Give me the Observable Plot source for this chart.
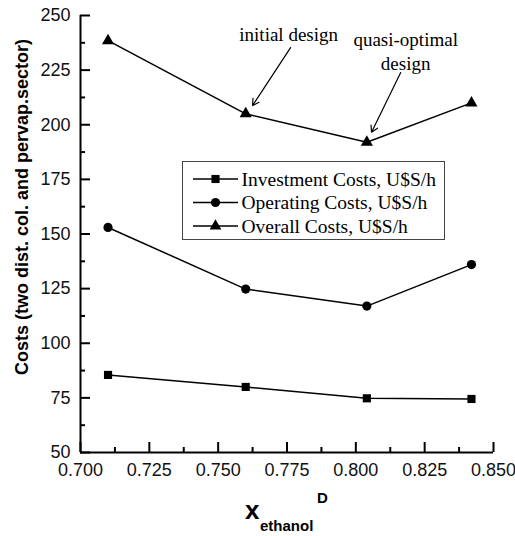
<!DOCTYPE html>
<html>
<head>
<meta charset="utf-8">
<script src="https://cdn.jsdelivr.net/npm/d3@7"></script>
<script src="https://cdn.jsdelivr.net/npm/@observablehq/plot@0.6"></script>
<style>
  body { margin: 0; background: #fff; }
  #wrap { position: relative; width: 515px; height: 536px; }
  #wrap svg { position: absolute; left: 0; top: 0; }
</style>
</head>
<body>
<div id="wrap"></div>
<script>
// ---- data ----
const xEthanol = [0.710, 0.760, 0.804, 0.842];
const investment = [85.5, 80.0, 74.8, 74.5];
const operating = [153.0, 124.8, 117.0, 136.0];
const overall = [238.5, 205.0, 192.0, 210.0];
const seriesNames = ["Investment Costs, U$S/h", "Operating Costs, U$S/h", "Overall Costs, U$S/h"];
const seriesSymbols = ["square", "circle", "triangle"];
const xMajorTicks = [0.700, 0.725, 0.750, 0.775, 0.800, 0.825, 0.850];
const xMinorTicks = [0.7125, 0.7375, 0.7625, 0.7875, 0.8125, 0.8375];
const yMajorTicks = [50, 75, 100, 125, 150, 175, 200, 225, 250];
const yMinorTicks = [62.5, 87.5, 112.5, 137.5, 162.5, 187.5, 212.5, 237.5];
const annotLabels = ["initial design", "quasi-optimal\ndesign"];
const annotTextX = [0.7756, 0.8181];
const annotTextY = [241.8, 234.0];
const arrowFromX = [0.7763, 0.8163];
const arrowFromY = [235.3, 223.9];
const arrowToX = [0.7625, 0.8057];
const arrowToY = [208.8, 196.6];
const yTitle = "Costs (two dist. col. and pervap.sector)";

const seriesValues = [investment, operating, overall];
const rows = seriesValues.flatMap((vals, s) =>
  vals.map((v, i) => ({series: seriesNames[s], symbol: seriesSymbols[s], x: xEthanol[i], y: v})));
const annots = annotLabels.map((t, i) => ({t, tx: annotTextX[i], ty: annotTextY[i],
  x1: arrowFromX[i], y1: arrowFromY[i], x2: arrowToX[i], y2: arrowToY[i]}));

const sans = "'Liberation Sans', Arial, sans-serif";
const serif = "'Liberation Serif', 'Times New Roman', serif";

const W = 515, H = 536, ML = 80, MR = 22, MT = 15, MB = 84;

const marks = [
  // axis lines
  Plot.ruleY([50], {stroke: "black", strokeWidth: 2}),
  Plot.ruleX([0.7], {stroke: "black", strokeWidth: 2}),
  // inward ticks (negative tick size points into the frame)
  Plot.axisX(xMajorTicks, {tickSize: -10, tickFormat: () => "", stroke: "black", strokeWidth: 2}),
  Plot.axisX(xMinorTicks, {tickSize: -5, tickFormat: () => "", stroke: "black", strokeWidth: 2}),
  Plot.axisY(yMajorTicks, {tickSize: -10, tickFormat: () => "", stroke: "black", strokeWidth: 2}),
  Plot.axisY(yMinorTicks, {tickSize: -5, tickFormat: () => "", stroke: "black", strokeWidth: 2}),
  // tick labels
  Plot.axisX(xMajorTicks, {tickSize: 0, tickPadding: 11, tickFormat: d3.format(".3f"), fontSize: 18, fill: "#111", label: null}),
  Plot.axisY(yMajorTicks, {tickSize: 0, tickPadding: 10, tickFormat: d3.format("d"), fontSize: 18, fill: "#111", label: null}),
  // y title
  Plot.text([yTitle], {frameAnchor: "left", textAnchor: "middle", rotate: -90, dx: -58, dy: -27, fontSize: 18, fontWeight: "bold", fontFamily: sans, fill: "#000"}),
  // series
  Plot.line(rows, {x: "x", y: "y", z: "series", stroke: "#000", strokeWidth: 1.5}),
  Plot.dot(rows.filter(d => d.symbol === "square"), {x: "x", y: "y", symbol: "square", r: 4.6, fill: "#000"}),
  Plot.dot(rows.filter(d => d.symbol === "circle"), {x: "x", y: "y", symbol: "circle", r: 4.6, fill: "#000"}),
  Plot.dot(rows.filter(d => d.symbol === "triangle"), {x: "x", y: "y", symbol: "triangle", r: 4.5, fill: "#000"}),
  // annotations
  Plot.arrow(annots, {x1: "x1", y1: "y1", x2: "x2", y2: "y2", stroke: "#000", strokeWidth: 1.2, headLength: 9}),
  Plot.text(annots, {x: "tx", y: "ty", text: "t", fontSize: 19, fontFamily: serif, fill: "#000", lineHeight: 1.25})
];

const chart = Plot.plot({
  width: W,
  height: H,
  marginLeft: ML,
  marginRight: MR,
  marginTop: MT,
  marginBottom: MB,
  style: {fontFamily: sans, background: "#fff", color: "#000", overflow: "visible"},
  x: {domain: [0.7, 0.85]},
  y: {domain: [50, 250]},
  marks
});
const wrap = document.getElementById("wrap");
wrap.appendChild(chart);

// ---- legend and x title overlay ----
const ov = d3.create("svg").attr("width", W).attr("height", H)
  .style("pointer-events", "none");
ov.append("rect").attr("x", 182.5).attr("y", 161.5).attr("width", 262).attr("height", 78)
  .attr("fill", "#fff").attr("stroke", "#444").attr("stroke-width", 1);
const rowY = [179, 202.5, 226];
const symMap = {square: d3.symbolSquare, circle: d3.symbolCircle, triangle: d3.symbolTriangle};
const symSize = {square: 66, circle: 66, triangle: 60};
seriesNames.forEach((name, i) => {
  const g = ov.append("g").attr("transform", `translate(0,${rowY[i]})`);
  g.append("line").attr("x1", 193).attr("x2", 238).attr("y1", 0).attr("y2", 0)
    .attr("stroke", "#000").attr("stroke-width", 1.5);
  g.append("path").attr("transform", "translate(215.5,0)")
    .attr("d", d3.symbol(symMap[seriesSymbols[i]], symSize[seriesSymbols[i]])()).attr("fill", "#000");
  g.append("text").attr("x", 241.5).attr("y", 0).attr("dy", "0.35em")
    .attr("font-family", serif).attr("font-size", 19.5).text(name);
});
const xt = ov.append("g").attr("font-family", sans).attr("font-weight", "bold").attr("fill", "#000");
xt.append("text").attr("x", 245).attr("y", 519).attr("font-size", 26).text("x");
xt.append("text").attr("x", 260).attr("y", 531).attr("font-size", 15).text("ethanol");
xt.append("text").attr("x", 317).attr("y", 503).attr("font-size", 15).text("D");
wrap.appendChild(ov.node());
</script>
</body>
</html>
